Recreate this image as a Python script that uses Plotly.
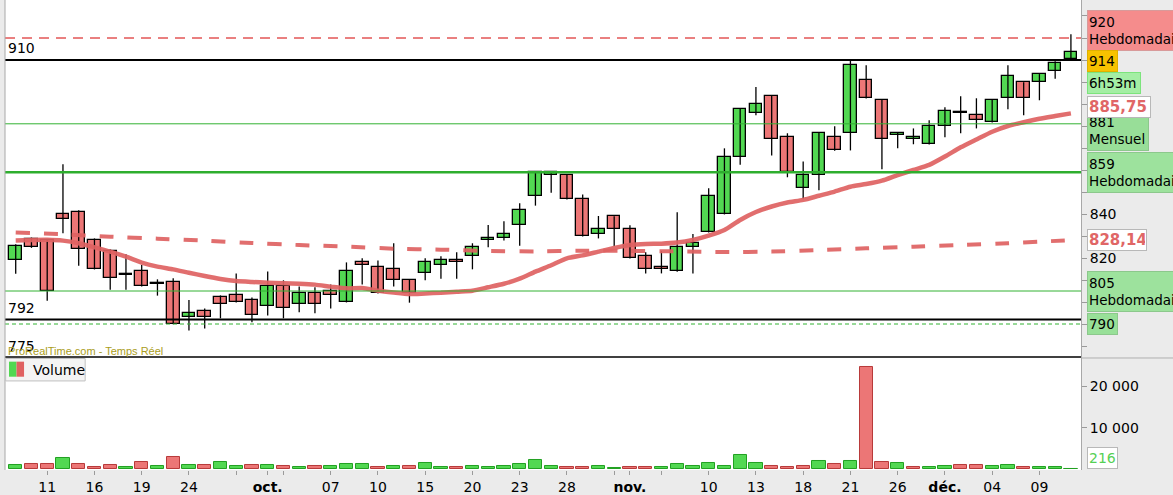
import plotly.graph_objects as go

# ---------------- data ----------------
idx = list(range(68))
opens = [818.9, 828.6, 828.3, 839.85, 840.8, 828.0, 823.0, 812.1, 814.0, 808.0,
         808.9, 793.0, 795.75, 802.1, 803.0, 800.8, 798.0, 807.1, 799.0, 804.0,
         804.85, 799.9, 818.0, 815.75, 814.85, 809.85, 813.0, 816.7, 818.9, 820.8,
         828.0, 828.9, 834.85, 848.0, 857.6, 857.6, 846.7, 830.8, 838.9, 833.0,
         820.8, 815.75, 813.9, 824.85, 831.7, 839.85, 865.75, 885.75, 893.5, 874.85,
         851.7, 857.6, 874.85, 876.7, 900.75, 891.7, 875.8, 873.9, 871.7, 879.85,
         885.75, 884.85, 881.7, 892.6, 899.85, 899.85, 904.85, 910.3]
highs = [826.3, 829.3, 828.6, 862.6, 841.7, 828.9, 823.9, 821.7, 816.8, 810.3,
         810.8, 800.9, 797.1, 803.0, 813.0, 802.1, 813.9, 809.85, 807.1, 806.7,
         808.0, 818.0, 819.85, 818.9, 826.7, 810.0, 819.85, 820.8, 822.6, 826.7,
         835.0, 836.7, 844.85, 859.0, 859.0, 857.7, 848.9, 839.1, 839.0, 834.85,
         822.6, 823.2, 840.8, 830.9, 851.7, 869.85, 887.7, 897.7, 893.6, 876.7,
         863.9, 876.8, 879.85, 909.9, 907.6, 891.8, 876.8, 878.9, 882.6, 888.5,
         893.5, 892.6, 891.8, 907.6, 899.9, 903.6, 909.4, 921.7]
lows = [812.9, 824.6, 800.6, 831.2, 816.5, 814.8, 805.6, 805.6, 807.0, 802.9,
        789.9, 787.0, 788.0, 792.6, 799.8, 790.8, 793.9, 792.6, 795.3, 794.85,
        797.1, 799.8, 808.0, 803.9, 807.0, 799.7, 809.85, 810.6, 810.6, 814.85,
        824.85, 828.0, 825.6, 843.8, 849.7, 846.6, 829.8, 828.9, 825.3, 819.8,
        813.0, 813.0, 813.8, 813.0, 831.6, 839.8, 862.4, 884.85, 866.6, 856.7,
        846.7, 850.8, 868.8, 868.9, 892.5, 860.3, 869.85, 871.7, 871.6, 874.85,
        876.7, 878.9, 881.6, 887.6, 884.85, 891.7, 901.5, 910.2]
closes = [825.6, 824.8, 804.85, 837.9, 823.9, 814.85, 810.8, 812.1, 807.1, 808.0,
          790.0, 794.85, 793.0, 799.0, 799.9, 793.9, 807.1, 797.1, 804.0, 799.0,
          803.0, 814.0, 816.7, 804.0, 809.85, 803.95, 818.0, 818.9, 818.0, 824.85,
          828.9, 830.8, 841.7, 858.9, 858.9, 846.7, 829.85, 833.0, 833.0, 819.85,
          814.85, 814.85, 824.85, 826.7, 848.0, 865.75, 887.6, 889.85, 873.9, 858.95,
          857.6, 876.7, 868.9, 907.6, 892.6, 874.0, 876.7, 874.85, 879.85, 886.7,
          885.75, 882.6, 891.7, 902.6, 892.6, 903.5, 908.5, 913.5]

volumes = [960, 1200, 1200, 2640, 1200, 480, 960, 480, 1680, 720,
           2880, 960, 960, 1680, 720, 960, 960, 720, 480, 720,
           720, 1200, 1200, 480, 720, 720, 1440, 480, 480, 720,
           480, 720, 1200, 2160, 720, 480, 480, 720, 240, 480,
           480, 480, 1200, 720, 1440, 720, 3360, 1440, 720, 480,
           720, 1920, 1200, 1920, 24480, 1680, 1440, 480, 480, 720,
           960, 960, 720, 960, 480, 480, 480, 216]
vol_up = [1, 0, 0, 1, 0, 0, 0, 1, 0, 1,
          0, 1, 0, 1, 1, 0, 1, 0, 1, 0,
          1, 1, 1, 0, 1, 0, 1, 1, 0, 1,
          1, 1, 1, 1, 1, 0, 0, 1, 1, 0,
          0, 1, 1, 1, 1, 1, 1, 1, 0, 0,
          0, 1, 0, 1, 0, 0, 1, 0, 1, 1,
          0, 0, 1, 1, 0, 1, 1, 1]

ma_fast = [828.0, 828.2, 828.3, 827.9, 826.7, 824.85, 822.9, 820.6, 817.9, 816.1,
           814.85, 813.3, 811.8, 810.45, 809.5, 809.1, 808.8, 808.5, 808.3, 807.9,
           807.0, 806.2, 806.4, 805.15, 804.3, 803.6, 803.9, 804.2, 804.7, 805.15,
           806.7, 808.3, 810.6, 813.8, 816.7, 819.85, 821.2, 822.9, 824.55, 825.9,
           826.4, 826.5, 827.0, 828.2, 830.15, 832.7, 837.3, 840.9, 843.4, 845.2,
           846.4, 848.3, 850.2, 852.4, 853.6, 855.15, 857.7, 860.0, 862.3, 866.1,
           870.3, 873.9, 877.4, 880.0, 881.7, 883.3, 884.55, 885.75]
ma_slow_idx = [0, 3, 6, 9, 12, 15, 18, 21, 24, 27, 30, 33, 36, 39, 42, 45, 48, 51,
               54, 57, 60, 63, 65, 67]
ma_slow = [831.6, 830.8, 829.7, 828.8, 827.9, 826.8, 825.9, 825.15, 824.25, 823.8,
           823.2, 823.0, 823.3, 823.2, 823.0, 822.7, 822.9, 823.6, 824.4, 825.15,
           825.9, 826.7, 827.4, 828.14]

tick_idx = [2, 5, 8, 11, 14, 16, 17, 20, 23, 26, 29, 32, 35, 38, 39, 41, 44, 47,
            50, 53, 56, 59, 62, 65]
tick_text = ["11", "16", "19", "24", "", "<b>oct.</b>", "", "07", "10", "15", "20",
             "23", "28", "", "<b>nov.</b>", "", "10", "13", "18", "21", "26",
             "<b>déc.</b>", "04", "09"]

levels = [920, 910, 881, 859, 805, 792, 790, 775]
level_colors = ["#d40000", "#000000", "#33b233", "#2eae2e", "#33b233", "#000000",
                "#33b233", "#000000"]
level_widths = [1, 2, 1, 2.5, 1, 2, 1, 1.5]
level_dash = ["10px,7px", "solid", "solid", "solid", "solid", "solid", "4px,3px", "solid"]

price_ticks = [930, 920, 910, 900, 890, 880, 870, 860, 850, 840, 830, 820, 810,
               800, 790, 780]
price_tick_text = ["", "", "", "", "", "", "", "", "", "840", "", "820", "", "", "", ""]

GREEN = "#52d852"
RED = "#ec7676"
FONT = "DejaVu Sans"

# ---------------- figure ----------------
fig = go.Figure()

# wicks
wx, wy = [], []
for i, h, l in zip(idx, highs, lows):
    wx += [i, i, None]
    wy += [l, h, None]
fig.add_trace(go.Scatter(x=wx, y=wy, mode="lines", line=dict(color="black", width=1.3),
                         hoverinfo="skip", showlegend=False, xaxis="x", yaxis="y"))

# bodies
base = [min(o, c) for o, c in zip(opens, closes)]
height = [max(abs(c - o), 0.45) for o, c in zip(opens, closes)]
bcol = [GREEN if c > o else (RED if c < o else "black") for o, c in zip(opens, closes)]
fig.add_trace(go.Bar(x=idx, y=height, base=base, width=0.8,
                     marker=dict(color=bcol, line=dict(color="black", width=1.3)),
                     hoverinfo="skip", showlegend=False, xaxis="x", yaxis="y"))

# moving averages
fig.add_trace(go.Scatter(x=ma_slow_idx, y=ma_slow, mode="lines",
                         line=dict(color="rgba(222,98,98,0.92)", width=4, dash="14px,14px",
                                   shape="spline", smoothing=0.6),
                         hoverinfo="skip", showlegend=False, xaxis="x", yaxis="y"))
fig.add_trace(go.Scatter(x=idx, y=ma_fast, mode="lines",
                         line=dict(color="rgba(222,98,98,0.92)", width=4.5,
                                   shape="spline", smoothing=0.6),
                         hoverinfo="skip", showlegend=False, xaxis="x", yaxis="y"))

# volume
vcol = [GREEN if u else RED for u in vol_up]
vline = ["#22a022" if u else "#b83a3a" for u in vol_up]
fig.add_trace(go.Bar(x=idx, y=volumes, width=0.84,
                     marker=dict(color=vcol, line=dict(color=vline, width=1)),
                     hoverinfo="skip", showlegend=False, xaxis="x", yaxis="y2"))

# level lines
shapes = []
for lv, c, w, d in zip(levels, level_colors, level_widths, level_dash):
    shapes.append(dict(type="line", xref="paper", x0=0, x1=1, yref="y", y0=lv, y1=lv,
                       line=dict(color=c, width=w, dash=d), layer="above"))
# left border
shapes.append(dict(type="line", xref="paper", x0=0, x1=0, yref="paper", y0=0, y1=1,
                   line=dict(color="#a8a8a8", width=1)))
# separator in right axis panel
shapes.append(dict(type="line", xref="paper", x0=1, x1=1.1, yref="paper", y0=0.2383, y1=0.2383,
                   line=dict(color="#b0b0b0", width=1)))
# volume legend box
shapes.append(dict(type="rect", xref="paper", yref="paper", x0=0.0006, x1=0.0745,
                   y0=0.1895, y1=0.2372, fillcolor="#f4f4f4", line=dict(color="#c0c0c0", width=1)))
shapes.append(dict(type="rect", xref="paper", yref="paper", x0=0.0037, x1=0.0107,
                   y0=0.1985, y1=0.2305, fillcolor=GREEN, line=dict(width=0)))
shapes.append(dict(type="rect", xref="paper", yref="paper", x0=0.0107, x1=0.0177,
                   y0=0.1985, y1=0.2305, fillcolor="#e06262", line=dict(width=0)))

annotations = []
# left level labels
for lv, txt, ys in [(910, "910", 2), (792, "792", 2), (775, "775", 1)]:
    annotations.append(dict(xref="paper", x=0, xanchor="left", xshift=1, yref="y", y=lv,
                            yanchor="bottom", yshift=ys, text=txt, showarrow=False,
                            font=dict(family=FONT, size=14, color="black")))
annotations.append(dict(xref="paper", x=0, xanchor="left", xshift=1, yref="y", y=775,
                        yanchor="bottom", yshift=-2, text="ProRealTime.com - Temps Réel",
                        showarrow=False, font=dict(family="Liberation Sans", size=11, color="#aa9d22")))
annotations.append(dict(xref="paper", x=0, xanchor="left", xshift=26, yref="paper", y=0.2133,
                        yanchor="middle", text="Volume", showarrow=False,
                        font=dict(family=FONT, size=14, color="black")))

# right-side boxes (drawn in order; later ones cover earlier ones)
boxes = [
    # text, anchor value, yshift, bg, border, font color, bold, width, height
    ("920<br>Hebdomadaire", 920, 8, "#f58c8c", "#d89a9a", "black", False, 112, 37),
    ("881<br>Mensuel", 881, -7, "#98de98", "#8cc88c", "black", False, 58, 37),
    ("914", 914, -10, "#f7c200", "#e0b000", "black", False, 27, 18),
    ("6h53m", 914, -32, "#a4eea4", "#7ce47c", "black", False, 50, 18),
    ("885,75", 885.75, 6, "white", "#b8b8b8", "#e06666", True, 60, 18),
    ("859<br>Hebdomadaire", 859, 0, "#9de29d", "#8cc88c", "black", False, 112, 37),
    ("828,14", 828.14, 0, "white", "#b8b8b8", "#e06666", True, 56, 18),
    ("805<br>Hebdomadaire", 805, 0, "#9de29d", "#8cc88c", "black", False, 112, 37),
    ("790", 790, 0, "#98e098", "#8cc88c", "black", False, 27, 18),
]
for txt, v, ys, bg, bc, fc, bold, w, h in boxes:
    annotations.append(dict(xref="paper", x=1, xanchor="left", xshift=6, yref="y", y=v,
                            yanchor="middle", yshift=ys, text=(f"<b>{txt}</b>" if bold else txt),
                            showarrow=False, align="left", bgcolor=bg, bordercolor=bc,
                            borderwidth=1, borderpad=1, width=w, height=h,
                            font=dict(family=FONT, size=13.5 if not bold else 15, color=fc)))
annotations.append(dict(xref="paper", x=1, xanchor="left", xshift=6, yref="y2", y=volumes[-1],
                        yanchor="middle", yshift=10, text=str(volumes[-1]), showarrow=False,
                        align="left", bgcolor="white", bordercolor="#b8b8b8", borderwidth=1,
                        borderpad=1, width=27, height=18,
                        font=dict(family=FONT, size=14, color="#55d055")))

fig.update_layout(
    width=1173, height=495,
    margin=dict(l=5, r=92, t=0, b=25, pad=0),
    paper_bgcolor="#ebebeb", plot_bgcolor="white",
    showlegend=False, bargap=0,
    shapes=shapes, annotations=annotations,
    xaxis=dict(range=[-0.68, 67.64], anchor="y2", tickmode="array", tickvals=tick_idx,
               ticktext=tick_text, ticks="outside", ticklen=4, tickcolor="#9a9a9a",
               showgrid=False, zeroline=False, showline=False,
               tickfont=dict(family=FONT, size=14, color="black")),
    yaxis=dict(domain=[0.2383, 1], range=[774.55, 937.27], side="right", anchor="x",
               tickmode="array", tickvals=price_ticks, ticktext=price_tick_text,
               ticks="outside", ticklen=5, tickcolor="#9a9a9a", showgrid=False,
               zeroline=False, showline=True, linecolor="#a8a8a8", linewidth=1,
               tickfont=dict(family=FONT, size=14, color="black")),
    yaxis2=dict(domain=[0, 0.2383], range=[-144, 26736], side="right", anchor="x",
                tickmode="array", tickvals=[10000, 20000], ticktext=["10 000", "20 000"],
                ticks="outside", ticklen=5, tickcolor="#9a9a9a", showgrid=False,
                zeroline=False, showline=True, linecolor="#a8a8a8", linewidth=1,
                tickfont=dict(family=FONT, size=14, color="black")),
)

fig.write_html("out.html")
